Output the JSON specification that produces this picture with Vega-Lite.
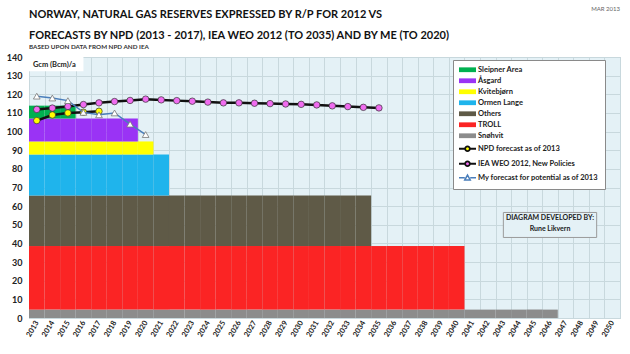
{
  "$schema": "https://vega.github.io/schema/vega-lite/v6.json",
  "width": 591,
  "height": 261,
  "autosize": {"type": "none"},
  "padding": {"left": 29, "top": 57, "right": 10, "bottom": 36},
  "background": "white",
  "config": {
    "font": "Lato",
    "view": {"fill": "#e4f1f6", "stroke": "#b3c5cb", "strokeWidth": 1},
    "axis": {"labelFont": "Lato", "labelFontWeight": "bold", "labelColor": "#222", "gridColor": "#c8d8dd", "gridWidth": 1, "domain": false, "ticks": false, "labelOverlap": false},
    "axisY": {"labelOverlap": false, "labelSeparation": 0, "labelFontSize": 9, "labelPadding": 7, "grid": true, "tickCount": 15},
    "axisQuantitative": {"labelOverlap": false, "tickCount": 15}
  },
  "title": {
    "text": ["NORWAY, NATURAL GAS RESERVES EXPRESSED BY R/P FOR 2012 VS", "FORECASTS BY NPD (2013 - 2017), IEA WEO 2012 (TO 2035) AND BY ME (TO 2020)"],
    "subtitle": "BASED UPON DATA FROM NPD AND IEA",
    "anchor": "start",
    "frame": "group",
    "font": "Lato",
    "fontSize": 11,
    "fontWeight": "bold",
    "lineHeight": 21,
    "color": "#111",
    "subtitleFont": "Lato",
    "subtitleFontSize": 6.3,
    "subtitleFontWeight": "bold",
    "subtitleColor": "#333",
    "subtitlePadding": 3,
    "offset": -44
  },
  "datasets": {
    "fieldOrder": [
      {"series": "Snøhvit", "rank": 1},
      {"series": "TROLL", "rank": 2},
      {"series": "Others", "rank": 3},
      {"series": "Ormen Lange", "rank": 4},
      {"series": "Kvitebjørn", "rank": 5},
      {"series": "Åsgard", "rank": 6},
      {"series": "Sleipner Area", "rank": 7}
    ],
    "reserves": [
      {"year": 2013, "Snøhvit": 4.5, "TROLL": 34.1, "Others": 27.1, "Ormen Lange": 22.0, "Kvitebjørn": 7.0, "Åsgard": 12.3, "Sleipner Area": 6.9},
      {"year": 2014, "Snøhvit": 4.5, "TROLL": 34.1, "Others": 27.1, "Ormen Lange": 22.0, "Kvitebjørn": 7.0, "Åsgard": 12.3, "Sleipner Area": 6.9},
      {"year": 2015, "Snøhvit": 4.5, "TROLL": 34.1, "Others": 27.1, "Ormen Lange": 22.0, "Kvitebjørn": 7.0, "Åsgard": 12.3, "Sleipner Area": 6.9},
      {"year": 2016, "Snøhvit": 4.5, "TROLL": 34.1, "Others": 27.1, "Ormen Lange": 22.0, "Kvitebjørn": 7.0, "Åsgard": 12.3},
      {"year": 2017, "Snøhvit": 4.5, "TROLL": 34.1, "Others": 27.1, "Ormen Lange": 22.0, "Kvitebjørn": 7.0, "Åsgard": 12.3},
      {"year": 2018, "Snøhvit": 4.5, "TROLL": 34.1, "Others": 27.1, "Ormen Lange": 22.0, "Kvitebjørn": 7.0, "Åsgard": 12.3},
      {"year": 2019, "Snøhvit": 4.5, "TROLL": 34.1, "Others": 27.1, "Ormen Lange": 22.0, "Kvitebjørn": 7.0, "Åsgard": 12.3},
      {"year": 2020, "Snøhvit": 4.5, "TROLL": 34.1, "Others": 27.1, "Ormen Lange": 22.0, "Kvitebjørn": 7.0},
      {"year": 2021, "Snøhvit": 4.5, "TROLL": 34.1, "Others": 27.1, "Ormen Lange": 22.0},
      {"year": 2022, "Snøhvit": 4.5, "TROLL": 34.1, "Others": 27.1},
      {"year": 2023, "Snøhvit": 4.5, "TROLL": 34.1, "Others": 27.1},
      {"year": 2024, "Snøhvit": 4.5, "TROLL": 34.1, "Others": 27.1},
      {"year": 2025, "Snøhvit": 4.5, "TROLL": 34.1, "Others": 27.1},
      {"year": 2026, "Snøhvit": 4.5, "TROLL": 34.1, "Others": 27.1},
      {"year": 2027, "Snøhvit": 4.5, "TROLL": 34.1, "Others": 27.1},
      {"year": 2028, "Snøhvit": 4.5, "TROLL": 34.1, "Others": 27.1},
      {"year": 2029, "Snøhvit": 4.5, "TROLL": 34.1, "Others": 27.1},
      {"year": 2030, "Snøhvit": 4.5, "TROLL": 34.1, "Others": 27.1},
      {"year": 2031, "Snøhvit": 4.5, "TROLL": 34.1, "Others": 27.1},
      {"year": 2032, "Snøhvit": 4.5, "TROLL": 34.1, "Others": 27.1},
      {"year": 2033, "Snøhvit": 4.5, "TROLL": 34.1, "Others": 27.1},
      {"year": 2034, "Snøhvit": 4.5, "TROLL": 34.1, "Others": 27.1},
      {"year": 2035, "Snøhvit": 4.5, "TROLL": 34.1},
      {"year": 2036, "Snøhvit": 4.5, "TROLL": 34.1},
      {"year": 2037, "Snøhvit": 4.5, "TROLL": 34.1},
      {"year": 2038, "Snøhvit": 4.5, "TROLL": 34.1},
      {"year": 2039, "Snøhvit": 4.5, "TROLL": 34.1},
      {"year": 2040, "Snøhvit": 4.5, "TROLL": 34.1},
      {"year": 2041, "Snøhvit": 4.5},
      {"year": 2042, "Snøhvit": 4.5},
      {"year": 2043, "Snøhvit": 4.5},
      {"year": 2044, "Snøhvit": 4.5},
      {"year": 2045, "Snøhvit": 4.5},
      {"year": 2046, "Snøhvit": 4.5}
    ],
    "forecasts": [
      {"series": "NPD forecast as of 2013", "year": 2013, "value": 105.9},
      {"series": "NPD forecast as of 2013", "year": 2014, "value": 108.9},
      {"series": "NPD forecast as of 2013", "year": 2015, "value": 110.0},
      {"series": "NPD forecast as of 2013", "year": 2016, "value": 110.4},
      {"series": "NPD forecast as of 2013", "year": 2017, "value": 110.9},
      {"series": "IEA WEO 2012, New Policies", "year": 2013, "value": 111.9},
      {"series": "IEA WEO 2012, New Policies", "year": 2014, "value": 112.6},
      {"series": "IEA WEO 2012, New Policies", "year": 2015, "value": 113.5},
      {"series": "IEA WEO 2012, New Policies", "year": 2016, "value": 114.5},
      {"series": "IEA WEO 2012, New Policies", "year": 2017, "value": 115.4},
      {"series": "IEA WEO 2012, New Policies", "year": 2018, "value": 116.1},
      {"series": "IEA WEO 2012, New Policies", "year": 2019, "value": 116.7},
      {"series": "IEA WEO 2012, New Policies", "year": 2020, "value": 117.4},
      {"series": "IEA WEO 2012, New Policies", "year": 2021, "value": 117.0},
      {"series": "IEA WEO 2012, New Policies", "year": 2022, "value": 116.6},
      {"series": "IEA WEO 2012, New Policies", "year": 2023, "value": 116.3},
      {"series": "IEA WEO 2012, New Policies", "year": 2024, "value": 115.8},
      {"series": "IEA WEO 2012, New Policies", "year": 2025, "value": 115.4},
      {"series": "IEA WEO 2012, New Policies", "year": 2026, "value": 115.4},
      {"series": "IEA WEO 2012, New Policies", "year": 2027, "value": 115.2},
      {"series": "IEA WEO 2012, New Policies", "year": 2028, "value": 115.0},
      {"series": "IEA WEO 2012, New Policies", "year": 2029, "value": 114.8},
      {"series": "IEA WEO 2012, New Policies", "year": 2030, "value": 114.6},
      {"series": "IEA WEO 2012, New Policies", "year": 2031, "value": 114.3},
      {"series": "IEA WEO 2012, New Policies", "year": 2032, "value": 113.8},
      {"series": "IEA WEO 2012, New Policies", "year": 2033, "value": 113.4},
      {"series": "IEA WEO 2012, New Policies", "year": 2034, "value": 113.0},
      {"series": "IEA WEO 2012, New Policies", "year": 2035, "value": 112.7},
      {"series": "My forecast for potential as of 2013", "year": 2013, "value": 119.0},
      {"series": "My forecast for potential as of 2013", "year": 2014, "value": 118.0},
      {"series": "My forecast for potential as of 2013", "year": 2015, "value": 116.6},
      {"series": "My forecast for potential as of 2013", "year": 2016, "value": 110.3},
      {"series": "My forecast for potential as of 2013", "year": 2017, "value": 109.0},
      {"series": "My forecast for potential as of 2013", "year": 2018, "value": 110.0},
      {"series": "My forecast for potential as of 2013", "year": 2019, "value": 104.0},
      {"series": "My forecast for potential as of 2013", "year": 2020, "value": 98.4}
    ]
  },
  "layer": [
    {
      "data": {"name": "reserves"},
      "transform": [
        {"fold": ["Snøhvit", "TROLL", "Others", "Ormen Lange", "Kvitebjørn", "Åsgard", "Sleipner Area"], "as": ["series", "reserves"]},
        {"filter": "isValid(datum.reserves)"},
        {"lookup": "series", "from": {"data": {"name": "fieldOrder"}, "key": "series", "fields": ["rank"]}}
      ],
      "mark": {"type": "bar"},
      "encoding": {
        "x": {
          "field": "year", "type": "ordinal",
          "scale": {"domain": [2013,2014,2015,2016,2017,2018,2019,2020,2021,2022,2023,2024,2025,2026,2027,2028,2029,2030,2031,2032,2033,2034,2035,2036,2037,2038,2039,2040,2041,2042,2043,2044,2045,2046,2047,2048,2049,2050], "paddingInner": 0, "paddingOuter": 0},
          "axis": {"title": null, "tickBand": "extent", "grid": true, "labelAngle": -60, "labelAlign": "right", "labelBaseline": "middle", "labelFontSize": 7.5, "labelPadding": 3}
        },
        "y": {
          "field": "reserves", "type": "quantitative", "stack": "zero",
          "scale": {"domain": [0, 140], "nice": false},
          "axis": {"title": null, "values": [0,10,20,30,40,50,60,70,80,90,100,110,120,130,140], "tickCount": 15, "grid": true, "labelOverlap": false, "labelSeparation": 0, "labelFontSize": 9, "labelPadding": 7}
        },
        "color": {
          "field": "series", "type": "nominal",
          "scale": {
            "domain": ["Sleipner Area", "Åsgard", "Kvitebjørn", "Ormen Lange", "Others", "TROLL", "Snøhvit", "NPD forecast as of 2013", "IEA WEO 2012, New Policies", "My forecast for potential as of 2013"],
            "range": ["#00b050", "#9a33f5", "#ffff00", "#1fb4ec", "#5f5a47", "#fb2424", "#8c8c8c", "#ffff00", "#f06cf0", "#ffffff"]
          },
          "legend": {
            "title": null,
            "orient": "none",
            "legendX": 424,
            "legendY": 3,
            "padding": 6,
            "fillColor": "white",
            "strokeColor": "#8a8a8a",
            "labelFont": "Lato",
            "labelFontWeight": "bold",
            "labelFontSize": 7.5,
            "labelColor": "#222",
            "labelOffset": 2,
            "rowPadding": 2,
            "symbolSize": 289,
            "encode": {
              "symbols": {
                "update": {
                  "x": {"value": 8.5},
                  "size": {"value": 289},
                  "shape": {"signal": "datum.value === 'My forecast for potential as of 2013' ? 'M-1,0H-0.32M0.32,0H1M-0.32,0.25L0,-0.32L0.32,0.25Z' : (datum.value === 'NPD forecast as of 2013' || datum.value === 'IEA WEO 2012, New Policies') ? 'M-1,0H-0.28M0.28,0H1M-0.28,0A0.28,0.28,0,1,1,0.28,0A0.28,0.28,0,1,1,-0.28,0Z' : 'M-1,-0.28H1V0.28H-1Z'"},
                  "stroke": {"signal": "datum.value === 'My forecast for potential as of 2013' ? '#4a7ebb' : (datum.value === 'NPD forecast as of 2013' || datum.value === 'IEA WEO 2012, New Policies') ? '#111111' : 'transparent'"},
                  "strokeWidth": {"signal": "datum.value === 'My forecast for potential as of 2013' ? 1.5 : (datum.value === 'NPD forecast as of 2013' || datum.value === 'IEA WEO 2012, New Policies') ? 1.8 : 0"}
                }
              },
              "labels": {
                "update": {
                  "x": {"value": 19}
                }
              }
            }
          }
        },
        "order": {"field": "rank", "type": "quantitative"}
      }
    },
    {
      "data": {"name": "forecasts"},
      "transform": [{"filter": "datum.series !== 'My forecast for potential as of 2013'"}],
      "mark": {"type": "line", "stroke": "#111111", "strokeWidth": 2.5},
      "encoding": {
        "x": {"field": "year", "type": "ordinal"},
        "y": {"field": "value", "type": "quantitative", "axis": {"title": null, "values": [0,10,20,30,40,50,60,70,80,90,100,110,120,130,140], "tickCount": 15, "grid": true, "labelOverlap": false, "labelSeparation": 0, "labelFontSize": 9, "labelPadding": 7}},
        "detail": {"field": "series"}
      }
    },
    {
      "data": {"name": "forecasts"},
      "transform": [{"filter": "datum.series !== 'My forecast for potential as of 2013'"}],
      "mark": {"type": "point", "filled": true, "shape": "circle", "size": 42, "stroke": "#333333", "strokeWidth": 0.7, "opacity": 1},
      "encoding": {
        "x": {"field": "year", "type": "ordinal"},
        "y": {"field": "value", "type": "quantitative", "axis": {"title": null, "values": [0,10,20,30,40,50,60,70,80,90,100,110,120,130,140], "tickCount": 15, "grid": true, "labelOverlap": false, "labelSeparation": 0, "labelFontSize": 9, "labelPadding": 7}},
        "color": {"field": "series", "type": "nominal"}
      }
    },
    {
      "data": {"name": "forecasts"},
      "transform": [{"filter": "datum.series === 'My forecast for potential as of 2013'"}],
      "mark": {"type": "line", "stroke": "#4a7ebb", "strokeWidth": 1.5},
      "encoding": {
        "x": {"field": "year", "type": "ordinal"},
        "y": {"field": "value", "type": "quantitative", "axis": {"title": null, "values": [0,10,20,30,40,50,60,70,80,90,100,110,120,130,140], "tickCount": 15, "grid": true, "labelOverlap": false, "labelSeparation": 0, "labelFontSize": 9, "labelPadding": 7}}
      }
    },
    {
      "data": {"name": "forecasts"},
      "transform": [{"filter": "datum.series === 'My forecast for potential as of 2013'"}],
      "mark": {"type": "point", "filled": true, "shape": "triangle-up", "size": 45, "stroke": "#777777", "strokeWidth": 0.8, "opacity": 1},
      "encoding": {
        "x": {"field": "year", "type": "ordinal"},
        "y": {"field": "value", "type": "quantitative", "axis": {"title": null, "values": [0,10,20,30,40,50,60,70,80,90,100,110,120,130,140], "tickCount": 15, "grid": true, "labelOverlap": false, "labelSeparation": 0, "labelFontSize": 9, "labelPadding": 7}},
        "color": {"field": "series", "type": "nominal"}
      }
    },
    {
      "data": {"values": [{"note": "Gcm box"}]},
      "mark": {"type": "rect", "fill": "white"},
      "encoding": {
        "x": {"datum": 2013, "type": "ordinal", "bandPosition": 0},
        "x2": {"datum": 2016},
        "y": {"datum": 140, "type": "quantitative", "axis": {"title": null, "values": [0,10,20,30,40,50,60,70,80,90,100,110,120,130,140], "tickCount": 15, "grid": true, "labelOverlap": false, "labelSeparation": 0, "labelFontSize": 9, "labelPadding": 7}},
        "y2": {"datum": 132.3}
      }
    },
    {
      "data": {"values": [{"label": "Gcm (Bcm)/a"}]},
      "mark": {"type": "text", "font": "Lato", "fontWeight": "bold", "fontSize": 7.5, "align": "left", "baseline": "middle", "color": "#222"},
      "encoding": {
        "x": {"datum": 2013, "type": "ordinal", "bandPosition": 0.25},
        "y": {"datum": 135.8, "type": "quantitative", "axis": {"title": null, "values": [0,10,20,30,40,50,60,70,80,90,100,110,120,130,140], "tickCount": 15, "grid": true, "labelOverlap": false, "labelSeparation": 0, "labelFontSize": 9, "labelPadding": 7}},
        "text": {"field": "label"}
      }
    },
    {
      "data": {"values": [{"note": "credit box"}]},
      "mark": {"type": "rect", "fill": "#e4f1f6", "stroke": "#9a9a9a", "strokeWidth": 1},
      "encoding": {
        "x": {"datum": 2043, "type": "ordinal", "bandPosition": 0.5},
        "x2": {"datum": 2049},
        "y": {"datum": 56.6, "type": "quantitative", "axis": {"title": null, "values": [0,10,20,30,40,50,60,70,80,90,100,110,120,130,140], "tickCount": 15, "grid": true, "labelOverlap": false, "labelSeparation": 0, "labelFontSize": 9, "labelPadding": 7}},
        "y2": {"datum": 43.2}
      }
    },
    {
      "data": {"values": [{"label": "DIAGRAM DEVELOPED BY:", "v": 53.6}, {"label": "Rune Likvern", "v": 47.5}]},
      "mark": {"type": "text", "font": "Lato", "fontWeight": "bold", "fontSize": 7, "align": "center", "baseline": "middle", "color": "#222"},
      "encoding": {
        "x": {"datum": 2046, "type": "ordinal"},
        "y": {"field": "v", "type": "quantitative", "axis": {"title": null, "values": [0,10,20,30,40,50,60,70,80,90,100,110,120,130,140], "tickCount": 15, "grid": true, "labelOverlap": false, "labelSeparation": 0, "labelFontSize": 9, "labelPadding": 7}},
        "text": {"field": "label"}
      }
    },
    {
      "data": {"values": [{"label": "MAR 2013"}]},
      "mark": {"type": "text", "font": "Lato", "fontSize": 6, "align": "right", "baseline": "middle", "color": "#666"},
      "encoding": {
        "x": {"datum": 2050, "type": "ordinal", "bandPosition": 1},
        "y": {"datum": 165.5, "type": "quantitative", "axis": {"title": null, "values": [0,10,20,30,40,50,60,70,80,90,100,110,120,130,140], "tickCount": 15, "grid": true, "labelOverlap": false, "labelSeparation": 0, "labelFontSize": 9, "labelPadding": 7}},
        "text": {"field": "label"}
      }
    }
  ]
}
